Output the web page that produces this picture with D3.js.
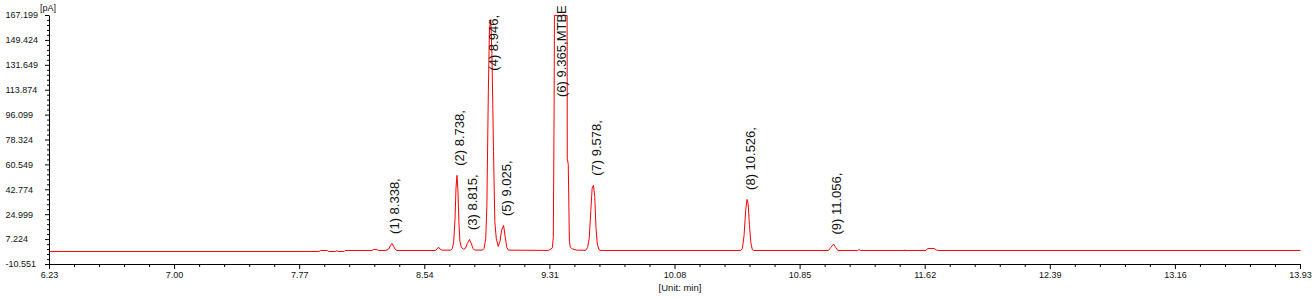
<!DOCTYPE html>
<html>
<head>
<meta charset="utf-8">
<script src="https://cdn.jsdelivr.net/npm/d3@7"></script>
<style>
  body { margin: 0; background: #fff; }
  text { font-family: "Liberation Sans", Arial, sans-serif; fill: #111; }
</style>
</head>
<body>
<svg id="chart" width="1316" height="300"></svg>
<script>
// axis ticks as printed by the instrument software
var xTicks = [6.23, 7.00, 7.77, 8.54, 9.31, 10.08, 10.85, 11.62, 12.39, 13.16, 13.93];
var yTicks = [-10.551, 7.224, 24.999, 42.774, 60.549, 78.324, 96.099, 113.874, 131.649, 149.424, 167.199];

// integrated peaks: retention time [min] and compound name
var peakTimes = [8.338, 8.738, 8.815, 8.946, 9.025, 9.365, 9.578, 10.526, 11.056];
var peakNames = ["", "", "", "", "", "MTBE", "", "", ""];

// detector trace, [time min, signal pA]
var trace = [
  [6.230, -1.25], [7.890, -1.25], [7.897, -0.54], [7.940, -0.54], [7.946, -1.25],
  [7.992, -1.25], [7.999, -0.60], [8.006, -1.25], [8.044, -1.25], [8.050, -0.54],
  [8.215, -0.54], [8.225, 0.20], [8.245, 0.20], [8.255, -0.54],
  [8.300, -0.54], [8.318, 0.50], [8.328, 2.80], [8.338, 4.50], [8.348, 2.50], [8.358, 0.30], [8.368, -0.54],
  [8.605, -0.54], [8.615, 0.50], [8.624, 1.80], [8.633, 0.50], [8.645, -0.30],
  [8.700, -0.30], [8.710, 0.80], [8.718, 6.0], [8.726, 22.0], [8.732, 44.0], [8.738, 53.1],
  [8.744, 42.0], [8.750, 20.0], [8.756, 6.0], [8.764, 2.0], [8.778, 0.3],
  [8.790, 1.0], [8.802, 4.5], [8.815, 7.3], [8.826, 4.5], [8.836, 1.0], [8.846, -0.2],
  [8.895, -0.3], [8.905, 1.0], [8.915, 8.0], [8.922, 31.0], [8.931, 112.0], [8.938, 158.0], [8.946, 164.0],
  [8.953, 140.0], [8.959, 100.0], [8.963, 70.0], [8.971, 20.0], [8.980, 8.0], [8.992, 2.3],
  [9.003, 6.0], [9.013, 14.0], [9.025, 17.3], [9.035, 9.0], [9.045, 1.5], [9.055, -0.3],
  [9.300, -0.5], [9.318, 0.5], [9.325, 1.5], [9.331, 8.7], [9.336, 100.0], [9.338, 167.2],
  [9.416, 167.2], [9.417, 65.0], [9.423, 61.0], [9.430, 6.0], [9.436, 1.6], [9.450, 0.5], [9.475, -0.3],
  [9.530, -0.4], [9.542, 1.5], [9.552, 8.0], [9.562, 28.0], [9.570, 44.0], [9.578, 46.0],
  [9.586, 38.0], [9.594, 15.0], [9.602, 4.0], [9.612, 0.0], [9.625, -0.54],
  [10.485, -0.54], [10.495, 1.0], [10.505, 10.0], [10.515, 28.0], [10.523, 35.9],
  [10.530, 33.0], [10.538, 18.0], [10.547, 5.0], [10.556, 0.0], [10.565, -0.54],
  [11.025, -0.54], [11.038, 1.5], [11.056, 4.0], [11.068, 1.8], [11.082, -0.54],
  [11.205, -0.54], [11.213, 0.2], [11.222, -0.54],
  [11.495, -0.54], [11.497, 0.0], [11.499, -0.54],
  [11.625, -0.54], [11.635, 0.9], [11.675, 0.9], [11.690, -0.3], [11.700, -0.54],
  [13.930, -0.54]
];

var svg = d3.select("#chart");

var x = d3.scaleLinear().domain([6.23, 13.93]).range([49, 1300]);
var y = d3.scaleLinear().domain([-10.551, 167.199]).range([264, 15]).clamp(true);

// minor ticks, 4 between each pair of labelled ticks
function minors(ticks) {
  var out = [];
  for (var i = 0; i < ticks.length - 1; i++) {
    for (var j = 1; j < 5; j++) out.push(ticks[i] + j * (ticks[i + 1] - ticks[i]) / 5);
  }
  return out;
}

// y axis
var yAxis = svg.append("g").attr("transform", "translate(49,0)")
  .call(d3.axisLeft(y).tickValues(yTicks).tickSize(4).tickSizeOuter(0)
    .tickFormat(function(d) { return d.toFixed(3); }))
  .attr("font-size", 9);
yAxis.selectAll("text").attr("x", 6 - 49.5).attr("text-anchor", "start");

svg.append("g").attr("transform", "translate(49,0)")
  .call(d3.axisLeft(y).tickValues(minors(yTicks)).tickSize(2).tickFormat(""))
  .select(".domain").remove();

// x axis
svg.append("g").attr("transform", "translate(0,264)")
  .call(d3.axisBottom(x).tickValues(xTicks).tickSize(5).tickPadding(3).tickSizeOuter(0)
    .tickFormat(function(d) { return d.toFixed(2); }))
  .attr("font-size", 9);

svg.append("g").attr("transform", "translate(0,264)")
  .call(d3.axisBottom(x).tickValues(minors(xTicks)).tickSize(3).tickFormat(""))
  .select(".domain").remove();

svg.append("text").attr("x", 48).attr("y", 10.5)
  .attr("text-anchor", "middle").attr("font-size", 9).text("[pA]");

svg.append("text").attr("x", 680).attr("y", 291)
  .attr("text-anchor", "middle").attr("font-size", 9.5).text("[Unit: min]");

// signal
var line = d3.line()
  .x(function(d) { return x(d[0]); })
  .y(function(d) { return y(d[1]); });

svg.append("path")
  .datum(trace)
  .attr("transform", "translate(0.5,0.5)")
  .attr("fill", "none")
  .attr("stroke", "#ff0000")
  .attr("stroke-width", 1)
  .attr("d", line);

// peak labels, rotated, sitting above each apex
var plotTop = 15;
peakTimes.forEach(function(t, i) {
  var apex = trace.reduce(function(a, b) {
    return Math.abs(b[0] - t) < Math.abs(a[0] - t) ? b : a;
  });
  var label = svg.append("text")
    .attr("font-size", 13)
    .attr("text-anchor", "start")
    .text("(" + (i + 1) + ") " + t.toFixed(3) + "," + peakNames[i]);
  var len = label.node().getComputedTextLength();
  var bottom = y(apex[1]) - 9;
  if (apex[1] >= y.domain()[1]) {
    bottom = 97;   // off-scale peak: label runs out of the top
  } else if (bottom - len < plotTop) {
    bottom = plotTop + len;
  }
  label.attr("transform", "translate(" + (x(t) + 8) + "," + bottom + ") rotate(-90)");
});
</script>
</body>
</html>
